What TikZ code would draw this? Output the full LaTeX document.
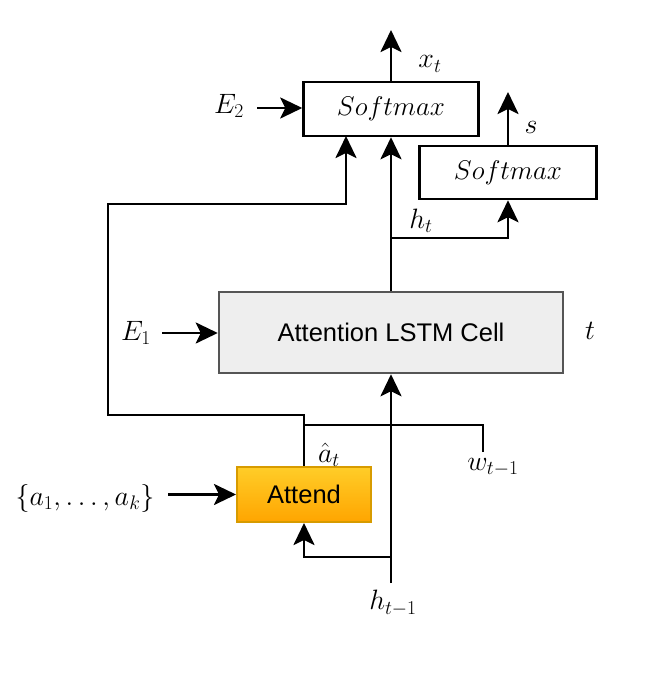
\RequirePackage{fix-cm}
\documentclass[tikz,border=0pt]{standalone}
\usepackage{fontspec}
\setsansfont{Liberation Sans}
\usetikzlibrary{arrows.meta,calc}
\definecolor{cellfill}{HTML}{EEEEEE}
\definecolor{celldraw}{HTML}{555555}
\definecolor{atttop}{HTML}{FFCD28}
\definecolor{attbot}{HTML}{FFA500}
\definecolor{attdraw}{HTML}{D79B00}
\begin{document}
\begin{tikzpicture}[x=1pt,y=-1pt,
  lbl/.style={inner sep=0pt,font=\fontsize{28}{33}\selectfont},
  box/.style={draw,line width=2.5pt,minimum width=175pt,minimum height=54pt,inner sep=0pt,font=\fontsize{27}{32}\selectfont},
  cell/.style={draw=celldraw,fill=cellfill,line width=2.5pt,inner sep=0pt,font=\sffamily\fontsize{25.5}{30}\selectfont},
  attbox/.style={draw=attdraw,top color=atttop,bottom color=attbot,line width=2pt,inner sep=0pt,font=\sffamily\fontsize{25.5}{30}\selectfont},
  conn/.style={line width=2.7pt},
  arr/.style={conn,-{Stealth[length=22pt,width=21pt,inset=5pt]}}]
\useasboundingbox (0,0) rectangle (664,683);
% boxes
\node[box] (s1) at (391,109) {$Softmax$};
\node[box,minimum width=177pt,minimum height=53pt] (s2) at (508,172.5) {$Softmax$};
\node[cell,minimum width=344pt,minimum height=81pt] (lstm) at (391,332.5) {Attention LSTM Cell};
\node[attbox,minimum width=134pt,minimum height=55pt] (att) at (304,494.5) {Attend};
% labels
\node[lbl] (E2) at (229,106) {$E_2$};
\node[lbl] (xt) at (430,64) {$x_t$};
\node[lbl] (s) at (531,127) {$s$};
\node[lbl] (ht) at (421,221) {$h_t$};
\node[lbl] (E1) at (136,333) {$E_1$};
\node[lbl] (t) at (590,331) {$t$};
\node[lbl] (ah) at (329,455) {$\hat{a}_t$};
\node[lbl] (w) at (493,467) {$w_{t-1}$};
\node[lbl] (hprev) at (393,603) {$h_{t-1}$};
\node[lbl] (as) at (85,498) {$\{a_1,\ldots,a_k\}$};
% coordinates
\coordinate (xtop) at (391,30);
\coordinate (stop) at (508,92);
\coordinate (hj) at (391,238);
\coordinate (hbot) at (391,583);
\coordinate (hsplit) at (391,557);
\coordinate (wend) at (483,452);
\coordinate (wcorner) at (304,425);
\coordinate (loopa) at (108,415);
\coordinate (loopb) at (346,204);
\coordinate (s1in) at (346,136);
\coordinate (e2start) at (257,108);
\coordinate (e1start) at (162,333);
\coordinate (asstart) at (168,494.5);
% connectors
\draw[arr] (lstm.north) -- (s1.south);
\draw[arr] (s1.north) -- (xtop);
\draw[arr] (hj) -| (s2.south);
\draw[arr] (s2.north) -- (stop);
\draw[arr] (e2start) -- (e2start -| s1.west);
\draw[arr] (e1start) -- (e1start -| lstm.west);
\draw[arr] (asstart) -- (att.west);
\draw[arr] (hbot) -- (lstm.south);
\draw[arr] (hsplit) -| (att.south);
\draw[conn] (wend) |- (wcorner);
\draw[arr] (att.north) |- (loopa) |- (loopb) -- (s1in);
\end{tikzpicture}
\end{document}
